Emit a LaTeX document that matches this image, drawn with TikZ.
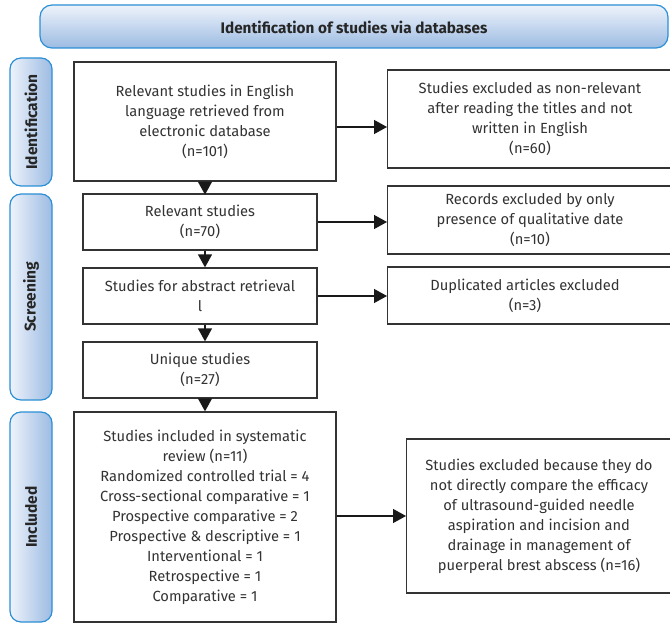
\documentclass[tikz,border=0pt]{standalone}
\usepackage{fontspec}
\setmainfont{Fira Sans}
\usetikzlibrary{arrows.meta,positioning}
\definecolor{txt}{HTML}{333333}
\definecolor{bluebd}{HTML}{2B8FD6}
\definecolor{bluehi}{HTML}{9CBBE2}
\definecolor{bluelo}{HTML}{EEF3FB}
\tikzset{
  x=1pt,y=-1pt,
  flowbox/.style={draw=black!80,line width=1.3pt,fill=white,text=txt,align=center,
    inner sep=2pt,font=\fontsize{14.7}{20}\selectfont},
  flowtext/.style={text=txt,align=center,inner sep=2pt,font=\fontsize{14.7}{20}\selectfont},
  phase/.style={draw=bluebd,line width=1.2pt,rounded corners=11pt,
    left color=bluelo,right color=bluehi},
  banner/.style={draw=bluebd,line width=1.2pt,rounded corners=12pt,
    top color=bluelo,bottom color=bluehi},
  phaselabel/.style={rotate=90,font=\bfseries\fontsize{15.5}{16}\selectfont,text=black!85},
  flow/.style={line width=1.4pt,draw=black!90,-{Triangle[length=13pt,width=14pt]}}
}
\begin{document}
\begin{tikzpicture}
\useasboundingbox (0,0) rectangle (670,623);
% banner
\node[banner,minimum width=628pt,minimum height=43pt] (ban) at (354,26.5) {};
\node[font=\bfseries\fontsize{15.3}{16}\selectfont,text=black!85] (bant) at (354,27) {Identification of studies via databases};
% phase side labels
\node[phase,minimum width=42pt,minimum height=128pt] (pid) at (31,122) {};
\node[phaselabel] (pidt) at (31,122) {Identification};
\node[phase,minimum width=42pt,minimum height=206pt] (psc) at (31,297) {};
\node[phaselabel] (psct) at (31,297) {Screening};
\node[phase,minimum width=42pt,minimum height=210pt] (pin) at (31,517) {};
\node[phaselabel] (pint) at (31,517) {Included};
% left column
\node[flowbox,minimum width=262pt,minimum height=119pt] (b1) at (205,121.5)
  {Relevant studies in English\\language retrieved from\\electronic database\\(n=101)};
\node[flowbox,minimum width=234pt,minimum height=56pt] (b2) at (200,222)
  {Relevant studies\\(n=70)};
\node[flowbox,minimum width=234pt,minimum height=56pt] (b3) at (200,296)
  {Studies for abstract retrieval\\l};
\node[flowbox,minimum width=234pt,minimum height=56pt] (b4) at (200,370)
  {Unique studies\\(n=27)};
\node[flowbox,minimum width=262pt,minimum height=210pt] (b5) at (205,517)
  {Studies included in systematic\\review (n=11)\\Randomized controlled trial = 4\\Cross-sectional comparative = 1\\Prospective comparative = 2\\Prospective \& descriptive = 1\\Interventional = 1\\Retrospective = 1\\Comparative = 1};
% right column
\node[flowbox,minimum width=300pt,minimum height=98pt,anchor=west] (e1) at (387,119) {};
\node[flowtext] (e1t) at (530,119)
  {Studies excluded as non-relevant\\after reading the titles and not\\written in English\\(n=60)};
\node[flowbox,minimum width=300pt,minimum height=68pt,anchor=west] (e2) at (387,220) {};
\node[flowtext] (e2t) at (530,220)
  {Records excluded by only\\presence of qualitative date\\(n=10)};
\node[flowbox,minimum width=300pt,minimum height=57pt,anchor=west] (e3) at (387,295.5) {};
\node[flowtext] (e3t) at (525,296)
  {Duplicated articles excluded\\(n=3)};
\node[flowbox,minimum width=300pt,minimum height=154pt,anchor=west] (e4) at (406,516) {};
\node[flowtext] (e4t) at (539,516)
  {Studies excluded because they do\\not directly compare the efficacy\\of ultrasound-guided needle\\aspiration and incision and\\drainage in management of\\puerperal brest abscess (n=16)};
% arrows
\coordinate (a1) at (205,127);
\draw[flow] (b1.east |- a1) -- (e1.west |- a1);
\draw[flow] (b1.south -| b2.north) ++(5,0) -- ++(0,13);
\draw[flow] (b2.east) -- (e2.west |- b2.east);
\draw[flow] (b3.east) -- (e3.west |- b3.east);
\draw[flow] ([xshift=5pt]b2.south) -- ([xshift=5pt]b3.north);
\draw[flow] ([xshift=5pt]b3.south) -- ([xshift=5pt]b4.north);
\draw[flow] ([xshift=5pt]b4.south) -- (b5.north);
\draw[flow] (b5.east |- e4.west) -- (e4.west);
\end{tikzpicture}
\end{document}
